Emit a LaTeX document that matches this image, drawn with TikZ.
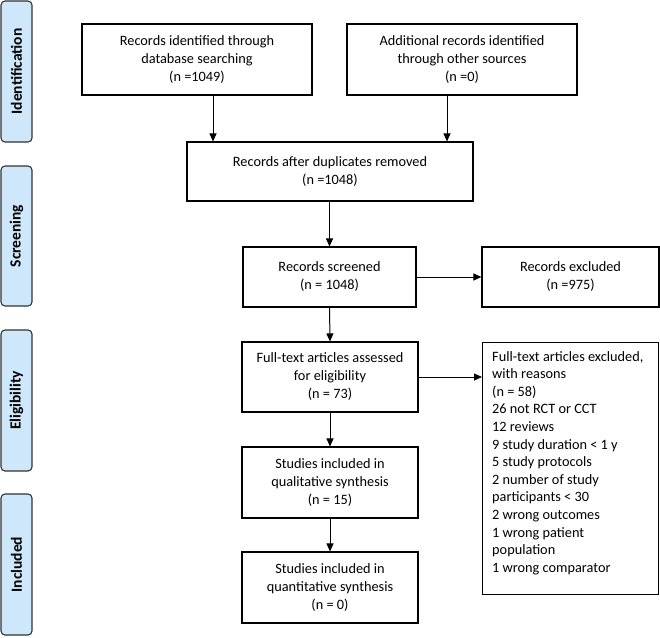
\documentclass[tikz,border=0pt]{standalone}
\usepackage{fontspec}
\setmainfont{Carlito}
\usetikzlibrary{arrows.meta}
\definecolor{phase}{RGB}{207,231,250}
\definecolor{phaseline}{RGB}{50,50,50}
\tikzset{
  box/.style={draw=black, line width=1.1pt, align=center, inner sep=4pt,
    font=\fontsize{14.3}{18}\selectfont},
  phasebox/.style={draw=phaseline, fill=phase, line width=1.1pt, rounded corners=4pt,
    rotate=90, minimum height=31pt, inner sep=0pt,
    font=\fontsize{15.5}{17}\selectfont\bfseries},
  arr/.style={line width=1pt, -{Triangle[length=8pt,width=7pt]}}
}
\begin{document}
\begin{tikzpicture}[x=1pt,y=-1pt]
\useasboundingbox (0,0) rectangle (660,637);
% phase labels
\node[phasebox, minimum width=141pt] (pid) at (16.5,71.5) {Identification};
\node[phasebox, minimum width=140pt] (psc) at (16.5,236) {Screening};
\node[phasebox, minimum width=141pt] (pel) at (16.5,400.5) {Eligibility};
\node[phasebox, minimum width=141pt] (pin) at (16.5,564.5) {Included};
% boxes
\node[box, minimum width=230pt, minimum height=71pt] (id1) at (197,59.5)
  {Records identified through\\database searching\\(n =1049)};
\node[box, minimum width=230pt, minimum height=71pt] (id2) at (462,59.5)
  {Additional records identified\\through other sources\\(n =0)};
\node[box, minimum width=286pt, minimum height=59pt] (dup) at (330,171.5)
  {Records after duplicates removed\\(n =1048)};
\node[box, minimum width=173pt, minimum height=60pt] (scr) at (329.5,277)
  {Records screened\\(n = 1048)};
\node[box, minimum width=177pt, minimum height=60pt] (exc) at (570.5,277)
  {Records excluded\\(n =975)};
\node[box, minimum width=176pt, minimum height=70pt] (full) at (330,377)
  {Full-text articles assessed\\for eligibility\\(n = 73)};
\node[box, minimum width=176pt, minimum height=71pt] (qual) at (330,482.5)
  {Studies included in\\qualitative synthesis\\(n = 15)};
\node[box, minimum width=176pt, minimum height=71pt] (quant) at (330,587.5)
  {Studies included in\\quantitative synthesis\\(n = 0)};
\node[box, minimum width=176pt, minimum height=252pt, text width=158pt, align=left,
  anchor=north west, inner sep=0pt] (rsn) at (482,342) {};
\node[anchor=north west, align=left, font=\fontsize{14.3}{17.6}\selectfont, inner sep=0pt]
  (rsntxt) at (492,351)
  {Full-text articles excluded,\\with reasons\\(n = 58)\\26 not RCT or CCT\\12 reviews\\9 study duration < 1 y\\5 study protocols\\2 number of study\\participants < 30\\2 wrong outcomes\\1 wrong patient\\population\\1 wrong comparator};
% connectors
\draw[arr] ([xshift=16pt]id1.south) -- ([xshift=16pt]id1.south |- dup.north);
\draw[arr] ([xshift=-15pt]id2.south) -- ([xshift=-15pt]id2.south |- dup.north);
\draw[arr] (dup.south -| scr.north) -- (scr.north);
\draw[arr] (scr.east) -- (exc.west);
\draw[arr] (scr.south) -- (full.north);
\draw[arr] (full.east) -- (full.east -| rsn.west);
\draw[arr] (full.south) -- (qual.north);
\draw[arr] (qual.south) -- (quant.north);
\end{tikzpicture}
\end{document}
